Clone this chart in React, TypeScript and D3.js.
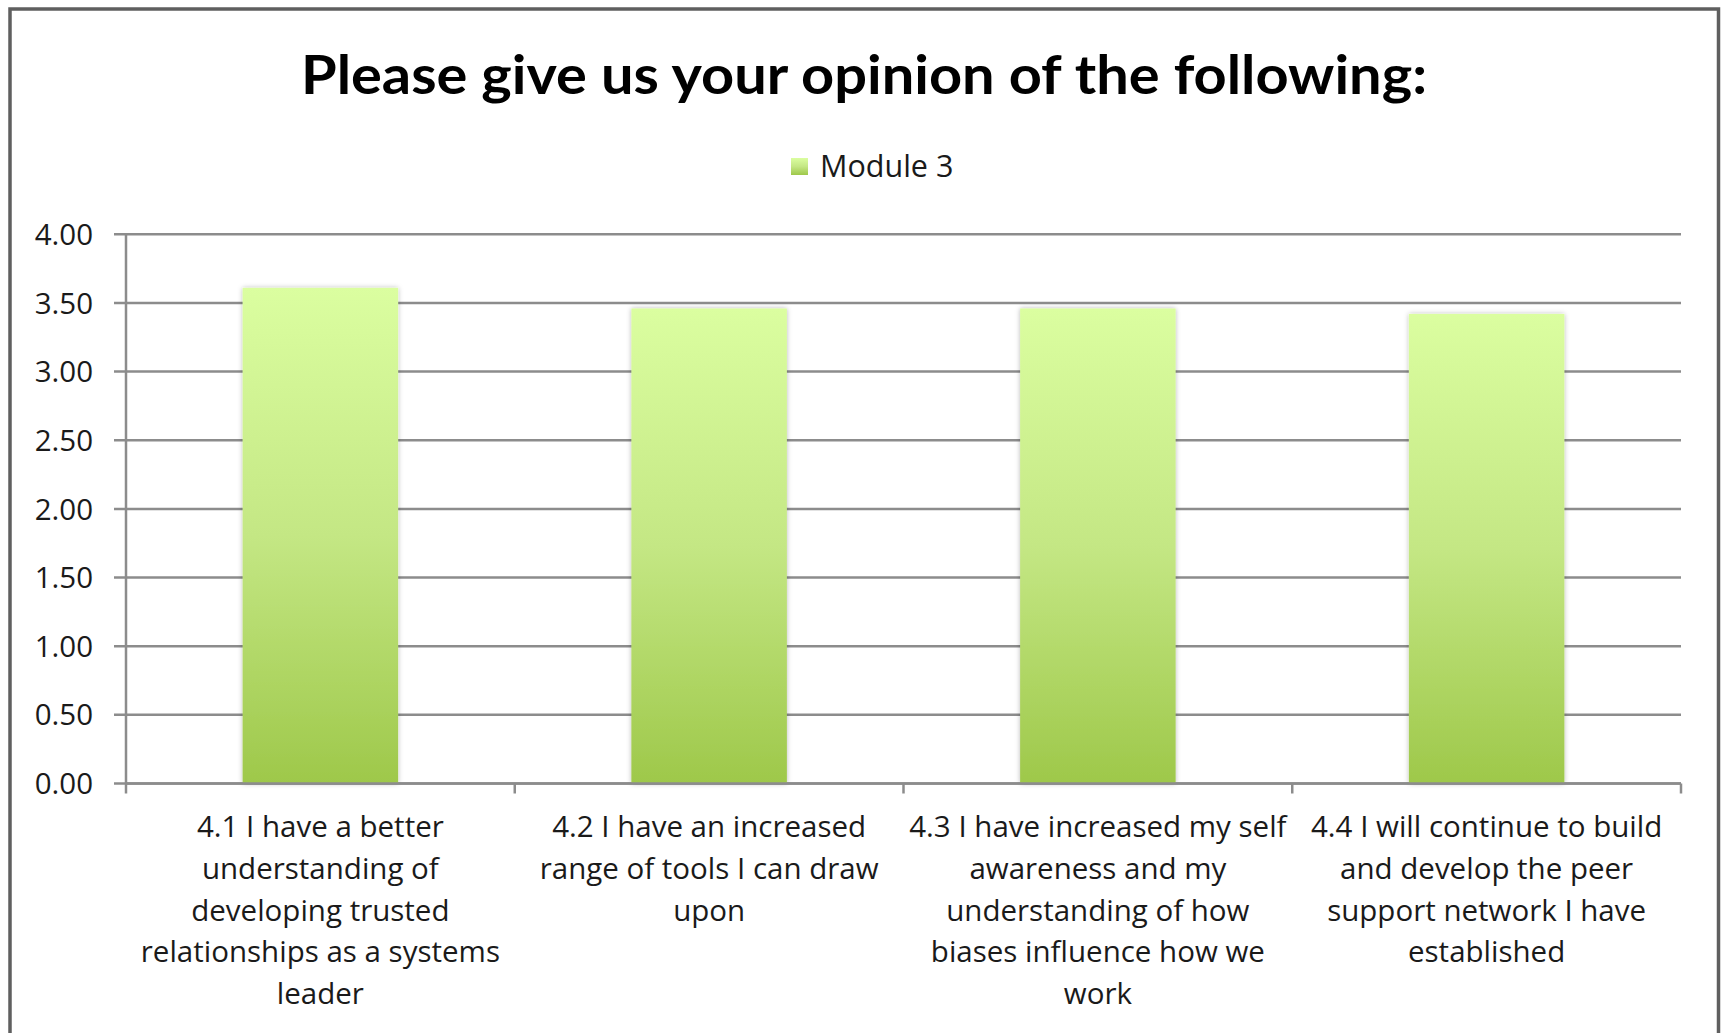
import React from "react";
import * as d3 from "d3";

const title = "Please give us your opinion of the following:";
const seriesName = "Module 3";
const categories = ["4.1", "4.2", "4.3", "4.4"];
const categoryLines: string[][] = [
  ["4.1 I have a better", "understanding of", "developing trusted", "relationships as a systems", "leader"],
  ["4.2 I have an increased", "range of tools I can draw", "upon"],
  ["4.3 I have increased my self", "awareness and my", "understanding of how", "biases influence how we", "work"],
  ["4.4 I will continue to build", "and develop the peer", "support network I have", "established"],
];
const values = [3.61, 3.46, 3.46, 3.42];
const yTicks = [0, 0.5, 1, 1.5, 2, 2.5, 3, 3.5, 4];

const W = 1723;
const H = 1033;
const FONT = "Lato, 'Open Sans', sans-serif";
const BODY_FONT = "'Open Sans', Lato, sans-serif";

export default function App() {
  const left = 126;
  const right = 1681;
  const top = 234.3;
  const bottom = 783.5;

  const x = d3.scaleBand<string>().domain(categories).range([left, right]).paddingInner(0).paddingOuter(0);
  const xBar = d3.scaleBand<string>().domain(categories).range([left, right]).paddingInner(0.6).paddingOuter(0.3);
  const y = d3.scaleLinear().domain([0, 4]).range([bottom, top]);

  const gridColor = "#8c8c8c";
  const textColor = "#1a1a1a";

  return (
    <svg width={W} height={H} style={{ position: "absolute", left: 0, top: 0, display: "block", background: "#fff" }}>
      <defs>
        <linearGradient id="barGrad" x1="0" y1="0" x2="0" y2="1">
          <stop offset="0%" stopColor="#dbfea0" />
          <stop offset="50%" stopColor="#c4e784" />
          <stop offset="100%" stopColor="#9ec84a" />
        </linearGradient>
        <filter id="shadow" x="-10%" y="-5%" width="120%" height="110%">
          <feDropShadow dx="0" dy="0" stdDeviation="2.5" floodColor="#000" floodOpacity="0.28" />
        </filter>
      </defs>
      <rect x={0} y={0} width={W} height={H} fill="#fff" />
      {/* outer border */}
      <rect x={10} y={9} width={1708.5} height={H + 20} fill="#fff" stroke="#5f5f5f" strokeWidth={3.5} />

      {/* title */}
      <text x={864} y={93.5} textAnchor="middle" fontFamily={FONT} fontWeight={700} fontSize={54} fill="#000"
        textLength={1126} lengthAdjust="spacingAndGlyphs">
        {title}
      </text>

      {/* legend */}
      <rect x={791} y={158} width={17} height={17} fill="url(#barGrad)" />
      <text x={820} y={176.5} fontFamily={BODY_FONT} fontSize={30.5} fill={textColor}>{seriesName}</text>

      {/* gridlines */}
      {yTicks.map((t) => (
        <line key={"g" + t} x1={left - 12} x2={right} y1={y(t)} y2={y(t)} stroke={gridColor} strokeWidth={2.5} />
      ))}
      {/* y axis line */}
      <line x1={left} x2={left} y1={top} y2={bottom} stroke={gridColor} strokeWidth={2.5} />
      {/* y labels */}
      {yTicks.map((t) => (
        <text key={"yl" + t} x={93} y={y(t)} dy="0.36em" textAnchor="end" fontFamily={BODY_FONT} fontSize={29.5} fill={textColor}>
          {t.toFixed(2)}
        </text>
      ))}

      {/* bars */}
      {categories.map((c, i) => (
        <rect key={"b" + c} x={xBar(c)} y={y(values[i])} width={xBar.bandwidth()} height={bottom - y(values[i])}
          fill="url(#barGrad)" filter="url(#shadow)" />
      ))}

      {/* x axis */}
      <line x1={left} x2={right} y1={bottom} y2={bottom} stroke={gridColor} strokeWidth={2.5} />
      {[...categories.map((c) => x(c) as number), right].map((px, i) => (
        <line key={"xt" + i} x1={px} x2={px} y1={bottom} y2={bottom + 10} stroke={gridColor} strokeWidth={2.5} />
      ))}

      {/* category labels */}
      {categories.map((c, i) => (
        <text key={"xl" + c} textAnchor="middle" fontFamily={BODY_FONT} fontSize={29.5} fill={textColor}>
          {categoryLines[i].map((ln, j) => (
            <tspan key={j} x={(x(c) as number) + x.bandwidth() / 2} y={837 + j * 41.8}>{ln}</tspan>
          ))}
        </text>
      ))}
    </svg>
  );
}
